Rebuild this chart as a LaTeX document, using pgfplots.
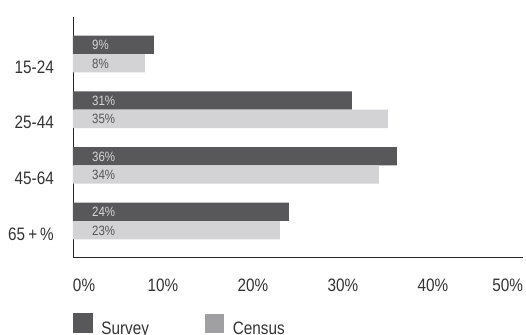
\documentclass[border=0pt]{standalone}
\usepackage{pgfplots}
\pgfplotsset{compat=1.18}
\usepackage{pgfplotstable}
\usepackage{fontspec}
\setmainfont{Liberation Sans}[FakeStretch=0.85]
\definecolor{survey}{HTML}{58585A}
\definecolor{census}{HTML}{D3D3D5}
\definecolor{censusleg}{HTML}{A0A0A2}
\definecolor{surveytxt}{HTML}{D6D6D6}
\definecolor{censustxt}{HTML}{555555}
\definecolor{labtxt}{HTML}{333333}
\pgfplotstableread{
k survey census
0 9 8
1 31 35
2 36 34
3 24 23
}\data
\begin{document}
\begin{tikzpicture}
\path[use as bounding box] (-73bp,-78bp) rectangle (453bp,257bp);
\begin{axis}[
  at={(0,0)}, anchor=south west,
  scale only axis, width=450bp, height=240bp,
  xmin=0, xmax=50, ymin=-0.665, ymax=3.647,
  y dir=reverse,
  axis x line*=bottom, axis y line*=left,
  axis line style={-, draw=black!85, line width=0.8pt},
  major tick length=0pt,
  xtick={0,10,20,30,40,50},
  xticklabels={\makebox[0pt][l]{0\%},10\%,20\%,30\%,40\%,\makebox[0pt][r]{50\%}},
  ytick={0,1,2,3},
  yticklabels={15-24,25-44,45-64,65\,+\,\%},
  /pgf/number format/assume math mode=true,
  tick label style={font=\fontsize{18bp}{18bp}\selectfont, text=labtxt, inner sep=0pt},
  xticklabel style={anchor=base, yshift=-34bp},
  yticklabel style={anchor=base east, xshift=-19bp, yshift=-19.3bp},
  legend style={at={(axis description cs:0,0)}, anchor=north west, yshift=-56bp,
    draw=none, fill=none, inner sep=0pt, outer sep=0pt,
    nodes={inner sep=0pt, font=\fontsize{18bp}{18bp}\selectfont, text=labtxt},
    /tikz/every odd column/.append style={column sep=9bp},
    /tikz/every even column/.append style={column sep=0pt}},
  legend columns=2, legend cell align=left,
]
\addplot[forget plot, xbar, bar width=18.3bp, bar shift=0pt, fill=survey, draw=none]
  table[x=survey, y expr=\thisrow{k}-0.165]{\data};
\addplot[forget plot, xbar, bar width=18.3bp, bar shift=0pt, fill=census, draw=none]
  table[x=census, y expr=\thisrow{k}+0.165]{\data};
\addplot[forget plot, only marks, mark=*, mark size=0pt, draw opacity=0, fill opacity=0,
  mark options={draw opacity=0, fill opacity=0},
  point meta=explicit symbolic, nodes near coords={\pgfplotspointmeta\%},
  every node near coord/.append style={anchor=base west, inner sep=0pt, xshift=19bp, yshift=-5bp,
    font=\fontsize{13.5bp}{13.5bp}\selectfont, text=surveytxt, text opacity=1}]
  table[x expr=0, y expr=\thisrow{k}-0.165, meta=survey]{\data};
\addplot[forget plot, only marks, mark=*, mark size=0pt, draw opacity=0, fill opacity=0,
  mark options={draw opacity=0, fill opacity=0},
  point meta=explicit symbolic, nodes near coords={\pgfplotspointmeta\%},
  every node near coord/.append style={anchor=base west, inner sep=0pt, xshift=19bp, yshift=-5bp,
    font=\fontsize{13.5bp}{13.5bp}\selectfont, text=censustxt, text opacity=1}]
  table[x expr=0, y expr=\thisrow{k}+0.165, meta=census]{\data};
\addlegendimage{legend image code/.code={\fill[survey] (0bp,-3bp) rectangle (19bp,16bp);}}
\addlegendimage{legend image code/.code={\fill[censusleg] (0bp,-2.5bp) rectangle (18bp,15.5bp);}}
\legend{\makebox[104bp][l]{Survey},Census}
\end{axis}
\end{tikzpicture}
\end{document}
